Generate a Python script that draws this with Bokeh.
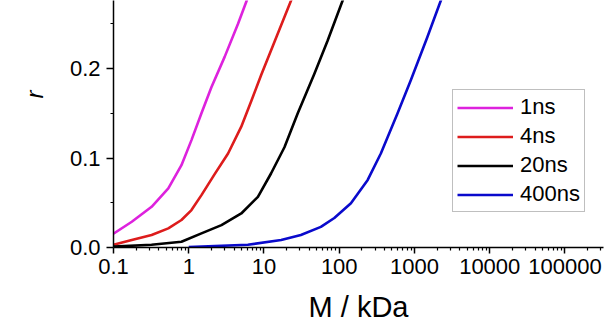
from bokeh.plotting import figure
from bokeh.models import (Range1d, FixedTicker, PrintfTickFormatter, Legend,
                          LegendItem, Title)
from bokeh.embed import file_html
from bokeh.resources import INLINE

# ---- data ----
m_1ns = [0.1, 0.175, 0.321, 0.535, 0.80, 1.087, 1.475, 2.0, 3.0, 4.52, 5.9, 9.0]
r_1ns = [0.0155, 0.0288, 0.0455, 0.066, 0.092, 0.120, 0.150, 0.179, 0.213, 0.250, 0.276, 0.33]

m_4ns = [0.1, 0.175, 0.321, 0.535, 0.80, 1.087, 1.475, 2.21, 3.33, 4.99, 6.8, 9.2, 13.8, 22.9, 35.0]
r_4ns = [0.003, 0.0084, 0.014, 0.0214, 0.0307, 0.0418, 0.0585, 0.082, 0.105, 0.135, 0.164, 0.193, 0.230, 0.276, 0.32]

m_20ns = [0.1, 0.32, 0.8, 1.475, 2.72, 4.99, 8.3, 12.4, 18.7, 28.1, 46.6, 70.0, 111.0, 170.0]
r_20ns = [0.001, 0.003, 0.0065, 0.0158, 0.025, 0.038, 0.0566, 0.0827, 0.112, 0.150, 0.194, 0.231, 0.276, 0.32]

m_400ns = [1.0, 6.1, 16.9, 30.9, 57.0, 86.0, 143.0, 239.0, 357.0, 596.0, 893.0, 1480.0, 2240.0, 3500.0]
r_400ns = [0.0004, 0.003, 0.0084, 0.014, 0.023, 0.033, 0.0495, 0.0755, 0.105, 0.150, 0.187, 0.235, 0.276, 0.32]

series_names = ["1ns", "4ns", "20ns", "400ns"]
series_colors = ["#dd22dd", "#dd1c1c", "#000000", "#0a0acc"]

x_ticks = [0.1, 1, 10, 100, 1000, 10000, 100000]
x_tick_labels = ["0.1", "1", "10", "100", "1000", "10000", "100000"]
y_ticks = [0.0, 0.1, 0.2]
y_minor = [0.05, 0.15, 0.25]

FONT = "Liberation Sans"

p = figure(width=606, height=330, x_axis_type="log",
           x_range=Range1d(0.1, 3.25e5), y_range=Range1d(0, 0.276),
           output_backend="svg", toolbar_location=None,
           min_border_left=111, min_border_right=3,
           min_border_top=0, min_border_bottom=83)
p.outline_line_color = None
p.grid.visible = False
p.background_fill_color = "white"
p.border_fill_color = "white"

minor_x = []
for k in range(-1, 6):
    for j in range(2, 10):
        minor_x.append(j * 10 ** k)

renderers = []
for xs, ys, c in zip([m_1ns, m_4ns, m_20ns, m_400ns],
                     [r_1ns, r_4ns, r_20ns, r_400ns], series_colors):
    renderers.append(p.line(xs, ys, line_color=c, line_width=2.6,
                            line_join="round"))

for ax in (p.xaxis[0], p.yaxis[0]):
    ax.major_label_text_font = FONT
    ax.major_label_text_font_size = "22px"
    ax.major_label_text_color = "black"
    ax.axis_label_text_color = "black"
    ax.axis_line_color = "black"
    ax.major_tick_line_color = "black"
    ax.minor_tick_line_color = "black"
    ax.axis_line_width = 1.5
    ax.major_tick_line_width = 1.5
    ax.minor_tick_line_width = 1.2
    ax.major_tick_in = 0
    ax.minor_tick_in = 0

xa = p.xaxis[0]
xa.ticker = FixedTicker(ticks=x_ticks, minor_ticks=minor_x)
xa.major_label_overrides = {t: s for t, s in zip(x_ticks, x_tick_labels)}
xa.axis_label = "M / kDa"
xa.axis_label_text_font = FONT
xa.axis_label_text_font_size = "29px"
xa.axis_label_text_font_style = "normal"
xa.axis_label_standoff = 14
xa.major_label_standoff = 5
xa.major_tick_out = 6
xa.minor_tick_out = 3

ya = p.yaxis[0]
ya.ticker = FixedTicker(ticks=y_ticks, minor_ticks=y_minor)
ya.formatter = PrintfTickFormatter(format="%.1f")
ya.major_label_standoff = 6
ya.major_tick_out = 7
ya.minor_tick_out = 3

ytitle = Title(text="r", align="right", offset=90, standoff=37,
               text_font=FONT, text_font_size="24px",
               text_font_style="italic", text_color="black")
p.add_layout(ytitle, "left")

legend = Legend(items=[LegendItem(label=n, renderers=[r])
                       for n, r in zip(series_names, renderers)],
                location=(339, 35), orientation="vertical",
                border_line_color="#808080", border_line_width=1,
                background_fill_alpha=1.0, padding=4, margin=0,
                spacing=3, glyph_width=56, glyph_height=25,
                label_standoff=7, label_text_font=FONT,
                label_text_font_size="22px", label_text_color="black")
p.add_layout(legend)

open("out.html", "w").write(file_html(p, INLINE))
